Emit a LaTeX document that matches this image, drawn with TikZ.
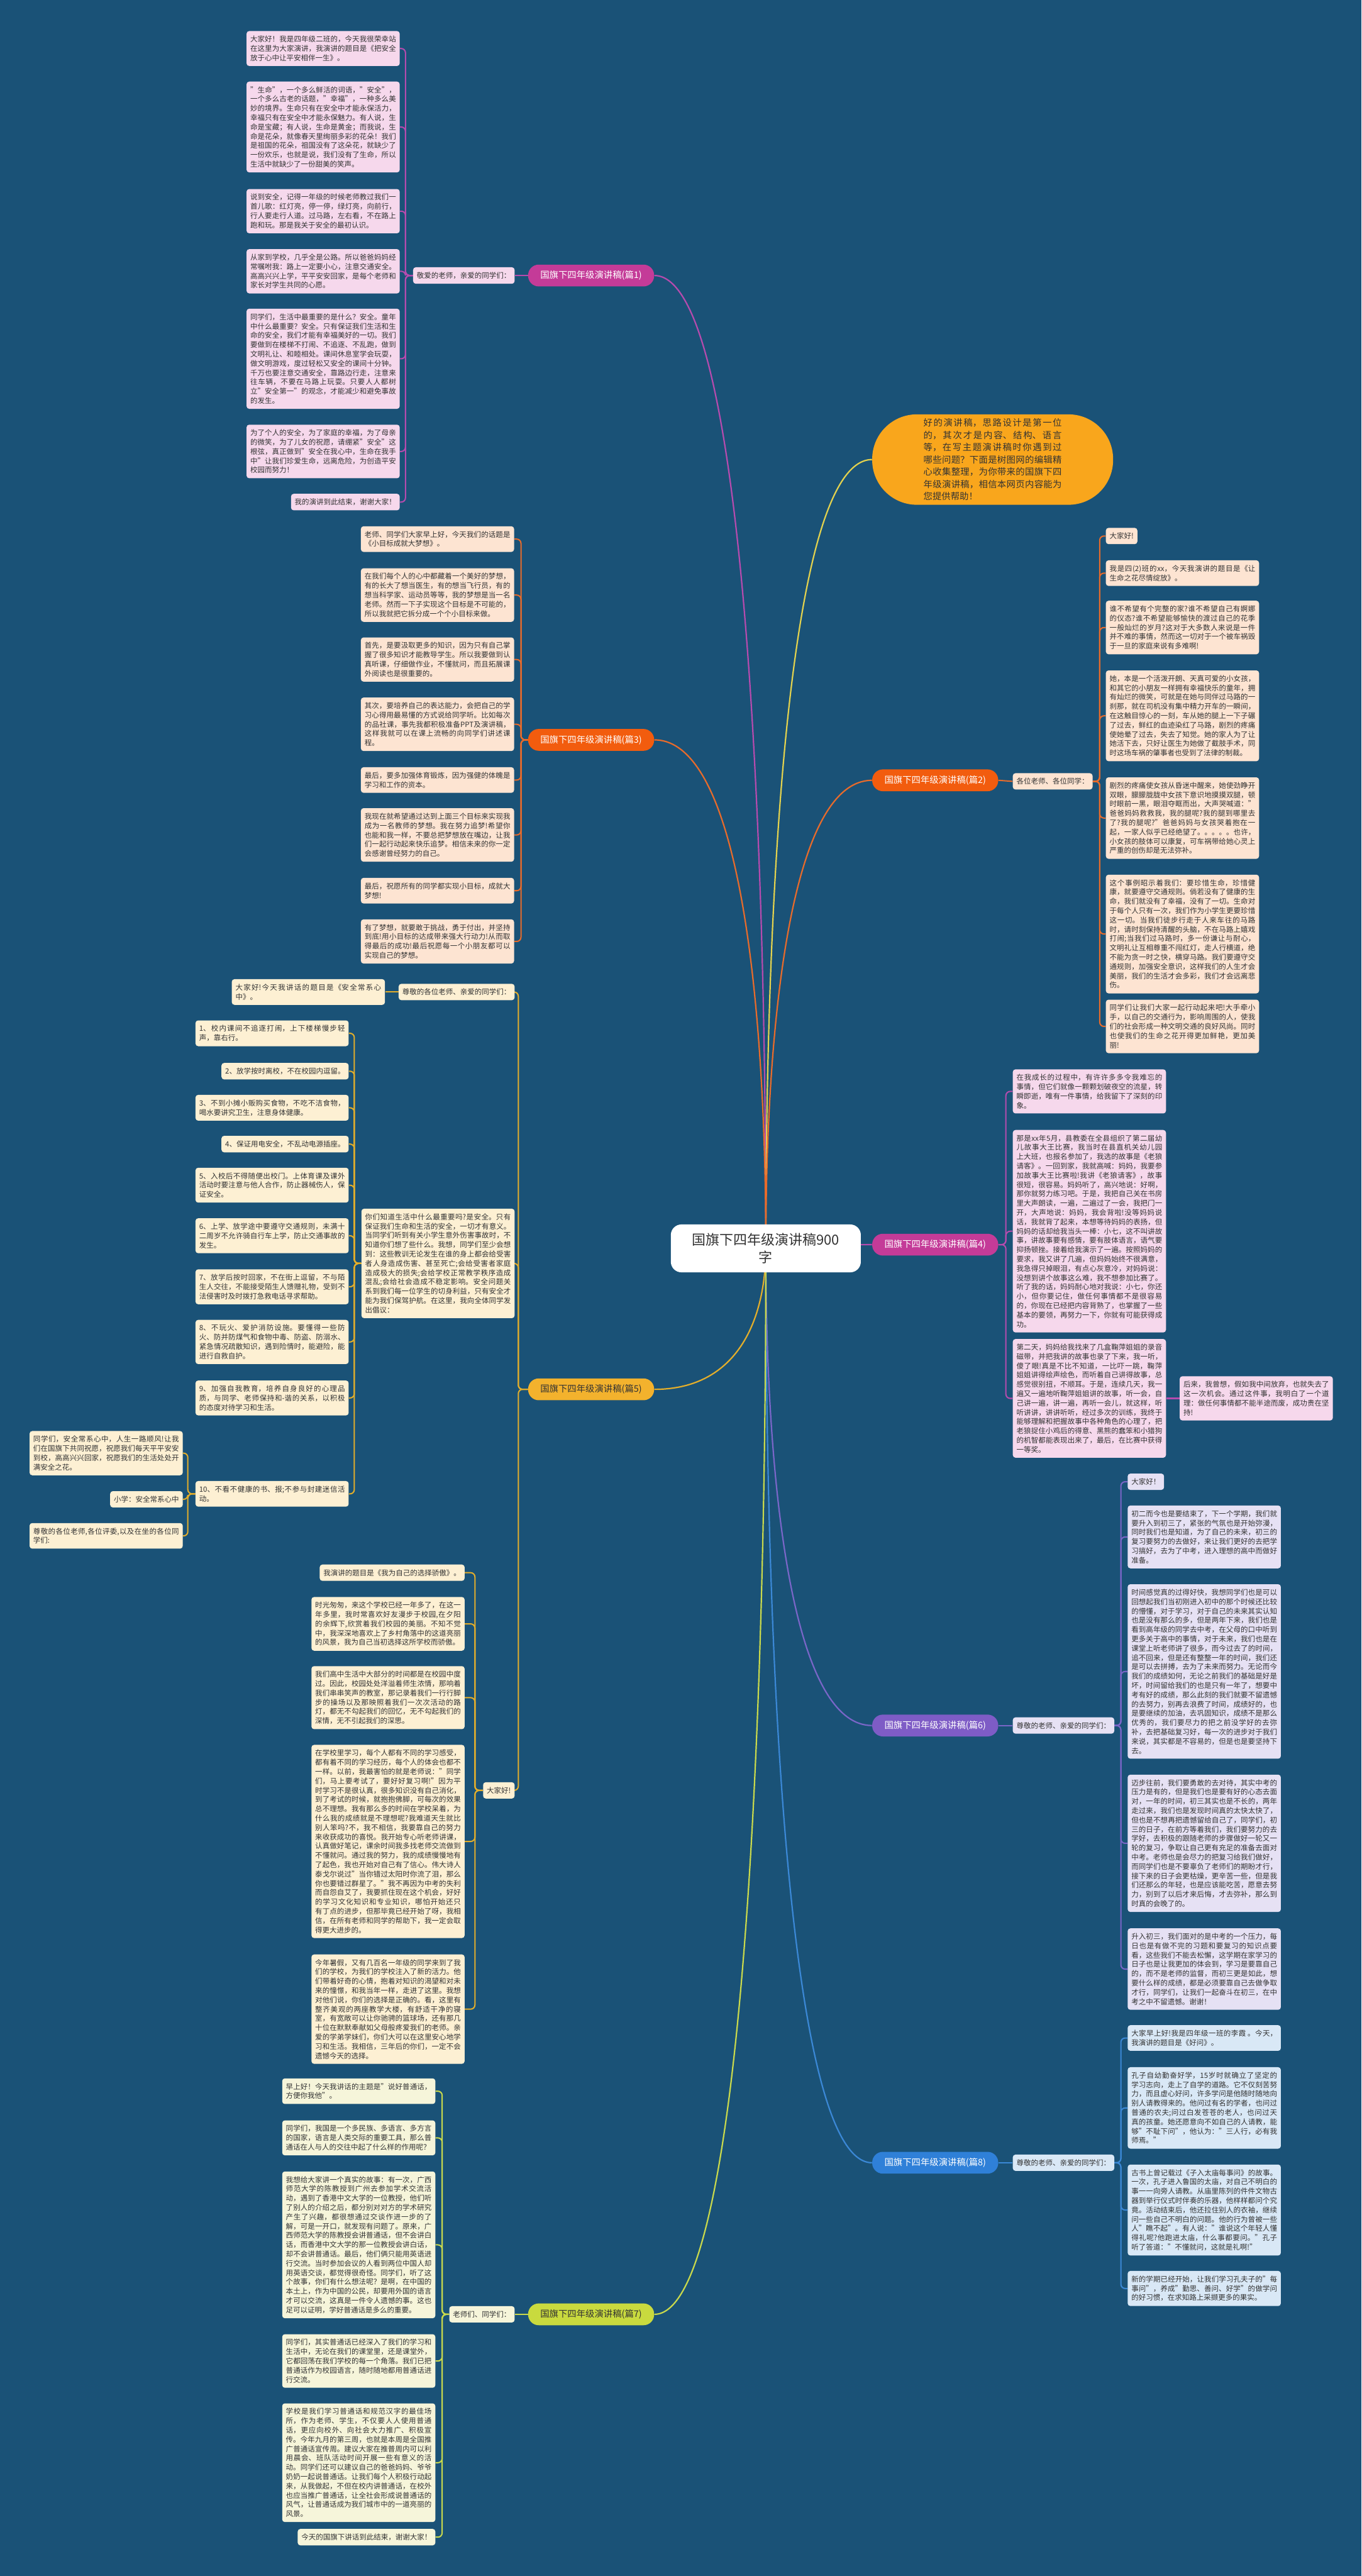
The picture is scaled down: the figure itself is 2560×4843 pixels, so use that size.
\documentclass[tikz,border=0pt]{standalone}
\usepackage{fontspec}
\setmainfont{Noto Sans CJK SC}
\XeTeXlinebreaklocale "zh"
\XeTeXlinebreakskip=0pt plus 1pt
\usetikzlibrary{calc}
\pgfdeclarelayer{bgl}
\pgfdeclarelayer{lines}
\pgfsetlayers{bgl,lines,main}
\definecolor{bg}{HTML}{1A5277}
\definecolor{txt}{HTML}{333333}
\definecolor{magP}{HTML}{C43B98}
\definecolor{magL}{HTML}{B64BAE}
\definecolor{pinkF}{HTML}{F6D8EC}
\definecolor{orP}{HTML}{F25C0E}
\definecolor{orL}{HTML}{E86B2B}
\definecolor{peachF}{HTML}{FDE4D2}
\definecolor{yeP}{HTML}{F3B22D}
\definecolor{yeL}{HTML}{E3AE2B}
\definecolor{creamF}{HTML}{FDF0D3}
\definecolor{puP}{HTML}{7E5CC6}
\definecolor{puL}{HTML}{7A66C8}
\definecolor{lavF}{HTML}{E6E1F4}
\definecolor{blP}{HTML}{2F80D8}
\definecolor{blL}{HTML}{3B88D6}
\definecolor{lbF}{HTML}{D9E8F6}
\definecolor{ygP}{HTML}{C9DA3E}
\definecolor{ygL}{HTML}{C9D94C}
\definecolor{ygF}{HTML}{F6F5DA}
\definecolor{bubF}{HTML}{F9A61C}
\definecolor{bubL}{HTML}{E3D24E}
\tikzset{
  leaf/.style={fill=#1, rounded corners=2.5pt, text=txt, font=\fontsize{6.8pt}{8.75pt}\selectfont, inner xsep=3.5pt, inner ysep=4.5pt, text width=137pt, align=justify},
  sleaf/.style={fill=#1, rounded corners=2.5pt, text=txt, font=\fontsize{6.8pt}{8.75pt}\selectfont, inner xsep=3.5pt, inner ysep=4.5pt},
  pill/.style={fill=#1, rounded corners=10pt, minimum width=118.5pt, minimum height=20.5pt, inner sep=0pt, text=white, font=\fontsize{8.5pt}{10pt}\selectfont},
  cnode/.style={fill=white, rounded corners=10pt, text=txt, inner xsep=20pt, inner ysep=8pt, align=center, font=\fontsize{13pt}{17pt}\selectfont},
  bubble/.style={fill=bubF, rounded corners=42pt, minimum width=226.5pt, minimum height=85pt, text width=130pt, align=justify, text=txt, font=\fontsize{8.5pt}{11.5pt}\selectfont},
  mainline/.style={line width=1.3pt},
  leafline/.style={line width=1.2pt, rounded corners=4pt}
}
\newcommand{\mlink}[2]{\draw[mainline,#1] (c0) .. controls ($(c0)!0.5!(c0 |- #2)$) and ($(c0 |- #2)!0.25!(#2)$) .. (#2);}
\begin{document}
\begin{tikzpicture}[x=0.5pt,y=-0.5pt]
\begin{pgfonlayer}{bgl}
\fill[bg] (0,0) rectangle (2560,4843);
\end{pgfonlayer}
\useasboundingbox (0,0) rectangle (2560,4843);

% center
\node[cnode] (c) at (1440,2347) {国旗下四年级演讲稿900\\字};
\coordinate (c0) at (1440,2347);

% pills
\node[pill=magP] (p1) at (1111.5,518) {国旗下四年级演讲稿(篇1)};
\node[pill=orP] (p3) at (1111.5,1391) {国旗下四年级演讲稿(篇3)};
\node[pill=orP] (p2) at (1758.5,1467) {国旗下四年级演讲稿(篇2)};
\node[pill=magP] (p4) at (1758.5,2340) {国旗下四年级演讲稿(篇4)};
\node[pill=yeP,text=txt] (p5) at (1111.5,2612) {国旗下四年级演讲稿(篇5)};
\node[pill=puP] (p6) at (1758.5,3244) {国旗下四年级演讲稿(篇6)};
\node[pill=blP] (p8) at (1758.5,4066) {国旗下四年级演讲稿(篇8)};
\node[pill=ygP,text=txt] (p7) at (1111.5,4351) {国旗下四年级演讲稿(篇7)};

% bubble
\node[bubble] (bub) at (1866.5,864) {好的演讲稿，思路设计是第一位的，其次才是内容、结构、语言等，在写主题演讲稿时你遇到过哪些问题？下面是树图网的编辑精心收集整理，为你带来的国旗下四年级演讲稿，相信本网页内容能为您提供帮助！};

% ===== 篇1 =====
\node[sleaf=pinkF,anchor=east] (k1) at (968,518) {敬爱的老师，亲爱的同学们：};
\node[leaf=pinkF,anchor=north east] (a1) at (752,58) {大家好！我是四年级二班的，今天我很荣幸站在这里为大家演讲，我演讲的题目是《把安全放于心中让平安相伴一生》。};
\node[leaf=pinkF,anchor=north east] (a2) at (752,153) {"生命"，一个多么鲜活的词语，"安全"，一个多么古老的话题，"幸福"，一种多么美妙的境界。生命只有在安全中才能永保活力，幸福只有在安全中才能永保魅力。有人说，生命是宝藏；有人说，生命是黄金；而我说，生命是花朵，就像春天里绚丽多彩的花朵！我们是祖国的花朵，祖国没有了这朵花，就缺少了一份欢乐，也就是说，我们没有了生命，所以生活中就缺少了一份甜美的笑声。};
\node[leaf=pinkF,anchor=north east] (a3) at (752,355) {说到安全，记得一年级的时候老师教过我们一首儿歌：红灯亮，停一停，绿灯亮，向前行，行人要走行人道。过马路，左右看，不在路上跑和玩。那是我关于安全的最初认识。};
\node[leaf=pinkF,anchor=north east] (a4) at (752,468) {从家到学校，几乎全是公路。所以爸爸妈妈经常嘱咐我：路上一定要小心，注意交通安全。高高兴兴上学，平平安安回家，是每个老师和家长对学生共同的心愿。};
\node[leaf=pinkF,anchor=north east] (a5) at (752,580) {同学们，生活中最重要的是什么？安全。童年中什么最重要？安全。只有保证我们生活和生命的安全，我们才能有幸福美好的一切。我们要做到在楼梯不打闹、不追逐、不乱跑，做到文明礼让、和睦相处。课间休息室学会玩耍，做文明游戏，度过轻松又安全的课间十分钟。千万也要注意交通安全，靠路边行走，注意来往车辆，不要在马路上玩耍。只要人人都树立"安全第一"的观念，才能减少和避免事故的发生。};
\node[leaf=pinkF,anchor=north east] (a6) at (752,798) {为了个人的安全，为了家庭的幸福，为了母亲的微笑，为了儿女的祝愿，请绷紧"安全"这根弦，真正做到"安全在我心中，生命在我手中"让我们珍爱生命，远离危险，为创造平安校园而努力！};
\node[sleaf=pinkF,anchor=north east] (a7) at (752,928) {我的演讲到此结束，谢谢大家！};

% ===== 篇3 =====
\node[leaf=peachF,anchor=north east] (b1) at (967,989) {老师、同学们大家早上好，今天我们的话题是《小目标成就大梦想》。};
\node[leaf=peachF,anchor=north east] (b2) at (967,1068) {在我们每个人的心中都藏着一个美好的梦想，有的长大了想当医生，有的想当飞行员，有的想当科学家、运动员等等，我的梦想是当一名老师。然而一下子实现这个目标是不可能的，所以我就把它拆分成一个个小目标来做。};
\node[leaf=peachF,anchor=north east] (b3) at (967,1198) {首先，是要汲取更多的知识，因为只有自己掌握了很多知识才能教导学生。所以我要做到认真听课，仔细做作业，不懂就问，而且拓展课外阅读也是很重要的。};
\node[leaf=peachF,anchor=north east] (b4) at (967,1311) {其次，要培养自己的表达能力，会把自己的学习心得用最易懂的方式说给同学听。比如每次的品社课，事先我都积极准备PPT及演讲稿，这样我就可以在课上流畅的向同学们讲述课程。};
\node[leaf=peachF,anchor=north east] (b5) at (967,1442) {最后，要多加强体育锻炼，因为强健的体魄是学习和工作的资本。};
\node[leaf=peachF,anchor=north east] (b6) at (967,1519) {我现在就希望通过达到上面三个目标来实现我成为一名教师的梦想。我在努力追梦!希望你也能和我一样，不要总把梦想放在嘴边，让我们一起行动起来快乐追梦。相信未来的你一定会感谢曾经努力的自己。};
\node[leaf=peachF,anchor=north east] (b7) at (967,1650) {最后，祝愿所有的同学都实现小目标，成就大梦想!};
\node[leaf=peachF,anchor=north east] (b8) at (967,1728) {有了梦想，就要敢于挑战，勇于付出，并坚持到底!用小目标的达成带来强大行动力!从而取得最后的成功!最后祝愿每一个小朋友都可以实现自己的梦想。};

% ===== 篇2 =====
\node[sleaf=peachF,anchor=west] (k2) at (1904,1469) {各位老师、各位同学：};
\node[sleaf=peachF,anchor=north west] (d1) at (2079,992) {大家好!};
\node[leaf=peachF,anchor=north west] (d2) at (2079,1053) {我是四(2)班的xx，今天我演讲的题目是《让生命之花尽情绽放》。};
\node[leaf=peachF,anchor=north west] (d3) at (2079,1129) {谁不希望有个完整的家?谁不希望自己有婀娜的仪态?谁不希望能够愉快的渡过自己的花季一般灿烂的岁月?这对于大多数人来说是一件并不难的事情，然而这一切对于一个被车祸毁于一旦的家庭来说有多难啊!};
\node[leaf=peachF,anchor=north west] (d4) at (2079,1260) {她，本是一个活泼开朗、天真可爱的小女孩，和其它的小朋友一样拥有幸福快乐的童年，拥有灿烂的微笑，可就是在她与同伴过马路的一刹那，就在司机没有集中精力开车的一瞬间，在这触目惊心的一刻，车从她的腿上一下子碾了过去，鲜红的血迹染红了马路，剧烈的疼痛使她晕了过去，失去了知觉。她的家人为了让她活下去，只好让医生为她做了截肢手术，同时这场车祸的肇事者也受到了法律的制裁。};
\node[leaf=peachF,anchor=north west] (d5) at (2079,1461) {剧烈的疼痛使女孩从昏迷中醒来，她使劲睁开双眼，朦朦胧胧中女孩下意识地摸摸双腿，顿时眼前一黑，眼泪夺眶而出，大声哭喊道："爸爸妈妈救救我，我的腿呢?我的腿到哪里去了?我的腿呢?"爸爸妈妈与女孩哭着抱在一起，一家人似乎已经绝望了。。。。。也许，小女孩的肢体可以康复，可车祸带给她心灵上严重的创伤却是无法弥补。};
\node[leaf=peachF,anchor=north west] (d6) at (2079,1644) {这个事例昭示着我们：要珍惜生命，珍惜健康，就要遵守交通规则。倘若没有了健康的生命，我们就没有了幸福，没有了一切。生命对于每个人只有一次，我们作为小学生更要珍惜这一切。当我们徒步行走于人来车往的马路时，请时刻保持清醒的头脑，不在马路上嬉戏打闹;当我们过马路时，多一份谦让与耐心，文明礼让互相尊重不闯红灯，走人行横道，绝不能为贪一时之快，横穿马路。我们要遵守交通规则，加强安全意识，这样我们的人生才会美丽，我们的生活才会多彩，我们才会远离悲伤。};
\node[leaf=peachF,anchor=north west] (d7) at (2079,1879) {同学们让我们大家一起行动起来吧!大手牵小手，以自己的交通行为，影响周围的人，使我们的社会形成一种文明交通的良好风尚。同时也使我们的生命之花开得更加鲜艳，更加美丽!};

% ===== 篇4 =====
\node[leaf=pinkF,anchor=north west] (e1) at (1904,2010) {在我成长的过程中，有许许多多令我难忘的事情，但它们就像一颗颗划破夜空的流星，转瞬即逝，唯有一件事情，给我留下了深刻的印象。};
\node[leaf=pinkF,anchor=north west] (e2) at (1904,2124) {那是xx年5月，县教委在全县组织了第二届幼儿故事大王比赛，我当时在县直机关幼儿园上大班，也报名参加了，我选的故事是《老狼请客》。一回到家，我就高喊：妈妈，我要参加故事大王比赛啦!我讲《老狼请客》，故事很短，很容易。妈妈听了，高兴地说：好啊，那你就努力练习吧。于是，我把自己关在书房里大声朗读，一遍，二遍过了一会，我把门一开，大声地说：妈妈，我会背啦!没等妈妈说话，我就背了起来，本想等待妈妈的表扬，但妈妈的话却给我当头一棒：小七，这不叫讲故事，讲故事要有感情，要有肢体语言，语气要抑扬顿挫。接着给我演示了一遍。按照妈妈的要求，我又讲了几遍，但妈妈始终不很满意，我急得只掉眼泪，有点心灰意冷，对妈妈说：没想到讲个故事这么难，我不想参加比赛了。听了我的话，妈妈耐心地对我说：小七，你还小，但你要记住，做任何事情都不是很容易的，你现在已经把内容背熟了，也掌握了一些基本的要领，再努力一下，你就有可能获得成功。};
\node[leaf=pinkF,anchor=north west] (e3) at (1904,2517) {第二天，妈妈给我找来了几盒鞠萍姐姐的录音磁带，并把我讲的故事也录了下来，我一听，傻了眼!真是不比不知道，一比吓一跳，鞠萍姐姐讲得绘声绘色，而听着自己讲得故事，总感觉很别扭，不顺耳。于是，连续几天，我一遍又一遍地听鞠萍姐姐讲的故事，听一会，自己讲一遍，讲一遍，再听一会儿，就这样，听听讲讲，讲讲听听，经过多次的训练，我终于能够理解和把握故事中各种角色的心理了，把老狼捉住小鸡后的得意、黑熊的蠢笨和小猎狗的机智都能表现出来了，最后，在比赛中获得一等奖。};
\node[leaf=pinkF,anchor=west] (e4) at ([xshift=12.5pt]e3.east) {后来，我曾想，假如我中间放弃，也就失去了这一次机会。通过这件事，我明白了一个道理：做任何事情都不能半途而废，成功贵在坚持!};

% ===== 篇5 =====
\node[sleaf=creamF,anchor=east] (fA) at (968,1865) {尊敬的各位老师、亲爱的同学们：};
\node[leaf=creamF,anchor=east] (fA1) at ([xshift=-12.5pt]fA.west) {大家好!今天我讲话的题目是《安全常系心中》。};
\node[leaf=creamF,anchor=north east] (fB) at (968,2272) {你们知道生活中什么最重要吗?是安全。只有保证我们生命和生活的安全，一切才有意义。当同学们听到有关小学生意外伤害事故时，不知道你们想了些什么。我想，同学们至少会想到：这些教训无论发生在谁的身上都会给受害者人身造成伤害、甚至死亡;会给受害者家庭造成极大的损失;会给学校正常教学秩序造成混乱;会给社会造成不稳定影响。安全问题关系到我们每一位学生的切身利益，只有安全才能为我们保驾护航。在这里，我向全体同学发出倡议：};
\node[leaf=creamF,anchor=north east] (g1) at (656,1918) {1、校内课间不追逐打闹，上下楼梯慢步轻声，靠右行。};
\node[sleaf=creamF,anchor=north east] (g2) at (656,1998) {2、放学按时离校，不在校园内逗留。};
\node[leaf=creamF,anchor=north east] (g3) at (656,2058) {3、不到小摊小贩购买食物，不吃不洁食物，喝水要讲究卫生，注意身体健康。};
\node[sleaf=creamF,anchor=north east] (g4) at (656,2135) {4、保证用电安全，不乱动电源插座。};
\node[leaf=creamF,anchor=north east] (g5) at (656,2195) {5、入校后不得随便出校门。上体育课及课外活动时要注意与他人合作，防止器械伤人，保证安全。};
\node[leaf=creamF,anchor=north east] (g6) at (656,2290) {6、上学、放学途中要遵守交通规则，未满十二周岁不允许骑自行车上学，防止交通事故的发生。};
\node[leaf=creamF,anchor=north east] (g7) at (656,2386) {7、放学后按时回家，不在街上逗留，不与陌生人交往，不能接受陌生人馈赠礼物，受到不法侵害时及时拨打急救电话寻求帮助。};
\node[leaf=creamF,anchor=north east] (g8) at (656,2481) {8、不玩火、爱护消防设施。要懂得一些防火、防并防煤气和食物中毒、防盗、防溺水、紧急情况疏散知识，遇到险情时，能避险，能进行自救自护。};
\node[leaf=creamF,anchor=north east] (g9) at (656,2595) {9、加强自我教育，培养自身良好的心理品质，与同学、老师保持和-谐的关系，以积极的态度对待学习和生活。};
\node[leaf=creamF,anchor=north east] (g10) at (656,2784) {10、不看不健康的书、报;不参与封建迷信活动。};
\node[leaf=creamF,anchor=north east] (h1) at (344,2690) {同学们，安全常系心中，人生一路顺风!让我们在国旗下共同祝愿，祝愿我们每天平平安安到校，高高兴兴回家，祝愿我们的生活处处开满安全之花。};
\node[sleaf=creamF,anchor=north east] (h2) at (344,2803) {小学：安全常系心中};
\node[leaf=creamF,anchor=north east] (h3) at (344,2863) {尊敬的各位老师,各位评委,以及在坐的各位同学们:};
\node[sleaf=creamF,anchor=east] (fC) at (968,3366) {大家好!};
\node[sleaf=creamF,anchor=north east] (m1) at (874,2941) {我演讲的题目是《我为自己的选择骄傲》。};
\node[leaf=creamF,anchor=north east] (m2) at (874,3002) {时光匆匆，来这个学校已经一年多了，在这一年多里，我时常喜欢好友漫步于校园,在夕阳的余辉下,欣赏着我们校园的美丽。不知不觉中，我深深地喜欢上了乡村角落中的这道亮丽的风景，我为自己当初选择这所学校而骄傲。};
\node[leaf=creamF,anchor=north east] (m3) at (874,3132) {我们高中生活中大部分的时间都是在校园中度过。因此，校园处处洋溢着师生浓情，那响着我们串串笑声的教室，那记录着我们一行行脚步的操场以及那映照着我们一次次活动的路灯，都无不勾起我们的回忆，无不勾起我们的深情，无不引起我们的深思。};
\node[leaf=creamF,anchor=north east] (m4) at (874,3280) {在学校里学习，每个人都有不同的学习感受，都有着不同的学习经历，每个人的体会也都不一样。以前，我最害怕的就是老师说："同学们，马上要考试了，要好好复习啊!"因为平时学习不是很认真，很多知识没有自己消化，到了考试的时候，就抱抱佛脚，可每次的效果总不理想。我有那么多的时间在学校呆着，为什么我的成绩就是不理想呢?我难道天生就比别人笨吗?不，我不相信，我要靠自己的努力来收获成功的喜悦。我开始专心听老师讲课，认真做好笔记，课余时间我多找老师交流做到不懂就问。通过我的努力，我的成绩慢慢地有了起色，我也开始对自己有了信心。伟大诗人泰戈尔说过"当你错过太阳时你流了泪，那么你也要错过群星了。"我不再因为中考的失利而自怨自艾了，我要抓住现在这个机会，好好的学习文化知识和专业知识，哪怕开始还只有丁点的进步，但那毕竟已经开始了呀，我相信，在所有老师和同学的帮助下，我一定会取得更大进步的。};
\node[leaf=creamF,anchor=north east] (m5) at (874,3674) {今年暑假，又有几百名一年级的同学来到了我们的学校，为我们的学校注入了新的活力。他们带着好奇的心情，抱着对知识的渴望和对未来的憧憬，和我当年一样，走进了这里。我想对他们说，你们的选择是正确的。看，这里有整齐美观的两座教学大楼，有舒适干净的寝室，有宽敞可以让你驰骋的篮球场，还有那几十位在默默奉献如父母般疼爱我们的老师。亲爱的学弟学妹们，你们大可以在这里安心地学习和生活。我相信，三年后的你们，一定不会遗憾今天的选择。};

% ===== 篇6 =====
\node[sleaf=lavF,anchor=west] (k6) at (1904,3244) {尊敬的老师、亲爱的同学们：};
\node[sleaf=lavF,anchor=north west] (n1) at (2120,2770) {大家好！};
\node[leaf=lavF,anchor=north west] (n2) at (2120,2830) {初二而今也是要结束了，下一个学期，我们就要升入到初三了，紧张的气氛也是开始弥漫，同时我们也是知道，为了自己的未来，初三的复习要努力的去做好，来让我们更好的去把学习搞好，去为了中考，进入理想的高中而做好准备。};
\node[leaf=lavF,anchor=north west] (n3) at (2120,2978) {时间感觉真的过得好快，我想同学们也是可以回想起我们当初刚进入初中的那个时候还比较的懵懂，对于学习，对于自己的未来其实认知也是没有那么的多，但是两年下来，我们也是看到高年级的同学去中考，在父母的口中听到更多关于高中的事情，对于未来，我们也是在课堂上听老师讲了很多，而今过去了的时间，追不回来，但是还有整整一年的时间，我们还是可以去拼搏，去为了未来而努力。无论而今我们的成绩如何，无论之前我们的基础是好是坏，时间留给我们的也是只有一年了，想要中考有好的成绩，那么此刻的我们就要不留遗憾的去努力，别再去浪费了时间，成绩好的，也是要继续的加油，去巩固知识，成绩不是那么优秀的，我们要尽力的把之前没学好的去弥补，去把基础复习好，每一次的进步对于我们来说，其实都是不容易的，但是也是要坚持下去。};
\node[leaf=lavF,anchor=north west] (n4) at (2120,3336) {迈步往前，我们要勇敢的去对待，其实中考的压力是有的，但是我们也是要有好的心态去面对，一年的时间，初三其实也是不长的，两年走过来，我们也是发现时间真的太快太快了，但也是不想再把遗憾留给自己了，同学们，初三的日子，在前方等着我们，我们要努力的去学好，去积极的跟随老师的步骤做好一轮又一轮的复习，争取让自己更有充足的准备去面对中考。老师也是会尽力的把复习给我们做好，而同学们也是不要辜负了老师们的期盼才行，接下来的日子会更枯燥，更辛苦一些，但是我们还那么的年轻，也是应该能吃苦，愿意去努力，别到了以后才来后悔，才去弥补，那么到时真的会晚了的。};
\node[leaf=lavF,anchor=north west] (n5) at (2120,3625) {升入初三，我们面对的是中考的一个压力，每日也是有做不完的习题和要复习的知识点要看，这些我们不能去松懈，这学期在家学习的日子也是让我更加的体会到，学习是要靠自己的，而不是老师的监督，而初三更是如此，想要什么样的成绩，都是必须要靠自己去做争取才行，同学们，让我们一起奋斗在初三，在中考之中不留遗憾。谢谢！};

% ===== 篇8 =====
\node[sleaf=lbF,anchor=west] (k8) at (1904,4066) {尊敬的老师、亲爱的同学们：};
\node[leaf=lbF,anchor=north west] (r1) at (2120,3807) {大家早上好!我是四年级一班的李霞 。今天，我演讲的题目是《好问》。};
\node[leaf=lbF,anchor=north west] (r2) at (2120,3886) {孔子自幼勤奋好学，15岁时就确立了坚定的学习志向，走上了自学的道路。它不仅刻苦努力，而且虚心好问，许多学问是他随时随地向别人请教得来的。他问过有名的学者，也问过普通的农夫;问过白发苍苍的老人，也问过天真的孩童。她还愿意向不如自己的人请教，能够"不耻下问"，他认为："三人行，必有我师焉。"};
\node[leaf=lbF,anchor=north west] (r3) at (2120,4069) {古书上曾记载过《子入太庙每事问》的故事。一次，孔子进入鲁国的太庙，对自己不明白的事一一向旁人请教。从庙里陈列的件件文物古器到举行仪式时伴奏的乐器，他样样都问个究竟。活动结束后，他还拉住别人的衣袖，继续问一些自己不明白的问题。他的行为曾被一些人"瞧不起"。有人说："谁说这个年轻人懂得礼呢?他跑进太庙，什么事都要问。"孔子听了答道："不懂就问，这就是礼啊!"};
\node[leaf=lbF,anchor=north west] (r4) at (2120,4269) {新的学期已经开始，让我们学习孔夫子的"每事问"，养成"勤思、善问、好学"的做学问的好习惯，在求知路上采撷更多的果实。};

% ===== 篇7 =====
\node[sleaf=ygF,anchor=east] (k7) at (968,4351) {老师们、同学们：};
\node[leaf=ygF,anchor=north east] (s1) at (819,3907) {早上好！今天我讲话的主题是"说好普通话，方便你我他"。};
\node[leaf=ygF,anchor=north east] (s2) at (819,3986) {同学们，我国是一个多民族、多语言、多方言的国家，语言是人类交际的重要工具，那么普通话在人与人的交往中起了什么样的作用呢？};
\node[leaf=ygF,anchor=north east] (s3) at (819,4082) {我想给大家讲一个真实的故事：有一次，广西师范大学的陈教授到广州去参加学术交流活动，遇到了香港中文大学的一位教授，他们听了别人的介绍之后，都分别对对方的学术研究产生了兴趣，都很想通过交谈作进一步的了解，可是一开口，就发现有问题了。原来，广西师范大学的陈教授会讲普通话，但不会讲白话，而香港中文大学的那一位教授会讲白话，却不会讲普通话。最后，他们俩只能用英语进行交流。当时参加会议的人看到两位中国人却用英语交谈，都觉得很奇怪。同学们，听了这个故事，你们有什么想法呢？是啊，在中国的本土上，作为中国的公民，却要用外国的语言才可以交流，这真是一件令人遗憾的事。这也足可以证明，学好普通话是多么的重要。};
\node[leaf=ygF,anchor=north east] (s4) at (819,4388) {同学们，其实普通话已经深入了我们的学习和生活中，无论在我们的课堂里，还是课堂外，它都回荡在我们学校的每一个角落。我们已把普通话作为校园语言，随时随地都用普通话进行交流。};
\node[leaf=ygF,anchor=north east] (s5) at (819,4518) {学校是我们学习普通话和规范汉字的最佳场所，作为老师、学生，不仅要人人使用普通话，更应向校外、向社会大力推广、积极宣传。今年九月的第三周，也就是本周是全国推广普通话宣传周。建议大家在推普周内可以利用晨会、班队活动时间开展一些有意义的活动。同学们还可以建议自己的爸爸妈妈、爷爷奶奶一起说普通话。让我们每个人积极行动起来，从我做起，不但在校内讲普通话，在校外也应当推广普通话，让全社会形成说普通话的风气，让普通话成为我们城市中的一道亮丽的风景。};
\node[sleaf=ygF,anchor=north east] (s6) at (819,4754) {今天的国旗下讲话到此结束，谢谢大家！};

% ===== connectors =====
\begin{pgfonlayer}{lines}
\mlink{magL}{p1.east}
\mlink{bubL}{bub.west}
\mlink{orL}{p3.east}
\mlink{orL}{p2.west}
\mlink{magL}{p4.west}
\mlink{yeL}{p5.east}
\mlink{puL}{p6.west}
\mlink{blL}{p8.west}
\mlink{ygL}{p7.east}
% 篇1
\draw[leafline,magL] (p1.west) -- (k1.east);
\foreach \q in {a1,a2,a3,a4,a5,a6,a7} \draw[leafline,magL] (k1.west) -- ++(-14,0) |- (\q.east);
% 篇3
\foreach \q in {b1,b2,b3,b4,b5,b6,b7,b8} \draw[leafline,orL] (p3.west) -- ++(-13,0) |- (\q.east);
% 篇2
\draw[leafline,orL] (p2.east) -- (k2.west);
\foreach \q in {d1,d2,d3,d4,d5,d6,d7} \draw[leafline,orL] (k2.east) -- ++(13,0) |- (\q.west);
% 篇4
\foreach \q in {e1,e2,e3} \draw[leafline,magL] (p4.east) -- ++(14,0) |- (\q.west);
\draw[leafline,magL] (e3.east) -- (e4.west);
% 篇5
\foreach \q in {fA,fB,fC} \draw[leafline,yeL] (p5.west) -- ++(-18,0) |- (\q.east);
\draw[leafline,yeL] (fA.west) -- (fA1.east);
\foreach \q in {g1,g2,g3,g4,g5,g6,g7,g8,g9,g10} \draw[leafline,yeL] (fB.west) -- ++(-13,0) |- (\q.east);
\foreach \q in {h1,h2,h3} \draw[leafline,yeL] (g10.west) -- ++(-14,0) |- (\q.east);
\foreach \q in {m1,m2,m3,m4,m5} \draw[leafline,yeL] (fC.west) -- ++(-15,0) |- (\q.east);
% 篇6
\draw[leafline,puL] (p6.east) -- (k6.west);
\foreach \q in {n1,n2,n3,n4,n5} \draw[leafline,puL] (k6.east) -- ++(12,0) |- (\q.west);
% 篇8
\draw[leafline,blL] (p8.east) -- (k8.west);
\foreach \q in {r1,r2,r3,r4} \draw[leafline,blL] (k8.east) -- ++(12,0) |- (\q.west);
% 篇7
\draw[leafline,ygL] (p7.west) -- (k7.east);
\foreach \q in {s1,s2,s3,s4,s5,s6} \draw[leafline,ygL] (k7.west) -- ++(-13,0) |- (\q.east);
\end{pgfonlayer}
\end{tikzpicture}
\end{document}
